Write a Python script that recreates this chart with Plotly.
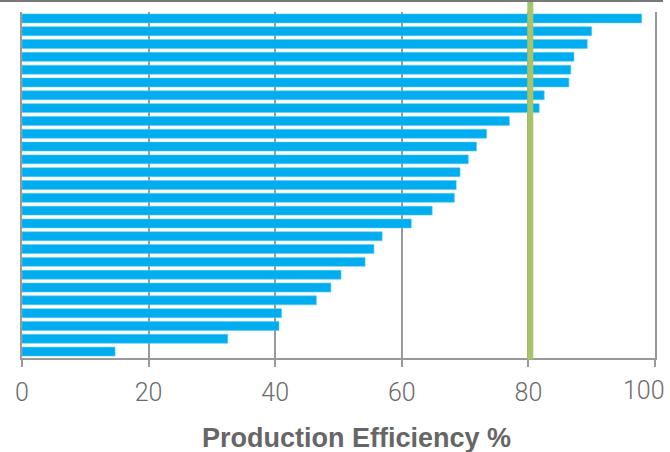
import plotly.graph_objects as go

# Production efficiency per unit, sorted from highest (top) to lowest (bottom)
units = [f"U{i:02d}" for i in range(1, 28)]
efficiency = [97.9, 90.0, 89.3, 87.2, 86.7, 86.4, 82.5, 81.7, 77.0, 73.4,
              71.8, 70.5, 69.2, 68.6, 68.3, 64.8, 61.5, 56.9, 55.6, 54.2,
              50.4, 48.8, 46.5, 41.0, 40.6, 32.5, 14.7]
target = 80.3
x_ticks = [0, 20, 40, 60, 80, 100]
x_tick_labels = ["0", "20", "40", "60", "80", "100"]

tick_font = dict(family="Roboto", size=25, color="#6B6B6B", weight=300)

fig = go.Figure()
fig.add_trace(go.Bar(
    x=efficiency,
    y=units,
    orientation="h",
    marker=dict(color="#00ADEE", line=dict(color="#5CCBF3", width=0.6)),
    hoverinfo="x",
))

# Target efficiency reference line
fig.add_shape(type="line", xref="x", yref="paper",
              x0=target, x1=target, y0=-0.004, y1=1.04,
              line=dict(color="#A8C46A", width=6), layer="above")

# Thin frame line along the top edge
fig.add_shape(type="line", xref="paper", yref="paper",
              x0=-0.035, x1=1.0126, y0=1.032, y1=1.032,
              line=dict(color="#777777", width=2))

# Last tick label is nudged inward so it stays inside the page
fig.add_annotation(text=x_tick_labels[-1], xref="x", yref="paper",
                   x=x_ticks[-1], y=-0.087, xanchor="right", yanchor="middle",
                   xshift=12, yshift=-2, showarrow=False, font=tick_font)

fig.add_annotation(text="<b>Production Efficiency %</b>", xref="paper", yref="paper",
                   x=0.528, y=-0.23, xanchor="center", yanchor="middle",
                   showarrow=False,
                   font=dict(family="Liberation Sans", size=27, color="#666666"))

fig.update_layout(
    width=670, height=452,
    margin=dict(l=22, r=15, t=12, b=94),
    plot_bgcolor="white", paper_bgcolor="white",
    bargap=0.3,
    showlegend=False,
)
fig.update_xaxes(
    range=[0, 100], tickvals=x_ticks,
    ticktext=x_tick_labels[:-1] + [""],
    showgrid=True, gridcolor="#999999", gridwidth=1.5,
    showline=True, linecolor="#999999", linewidth=1.5,
    ticks="outside", ticklen=7, tickcolor="#999999", tickwidth=1.5,
    tickfont=tick_font,
    ticklabelstandoff=4, ticklabeloverflow="allow",
    automargin=False,
    zeroline=False,
)
fig.update_yaxes(
    categoryorder="array", categoryarray=units[::-1],
    showticklabels=False, ticks="",
    showline=True, mirror=True, linecolor="#999999", linewidth=1.5,
    showgrid=False, automargin=False,
)

fig.write_html("out.html")
